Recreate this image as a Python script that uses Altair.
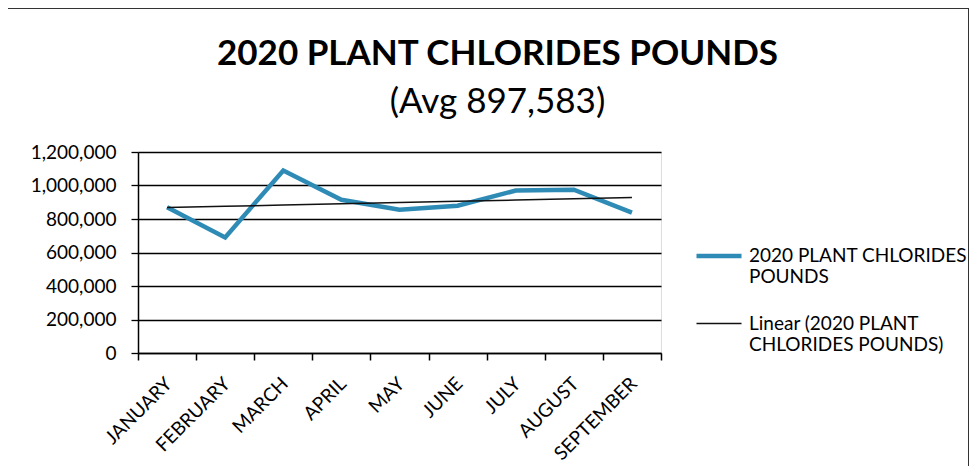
import altair as alt
import numpy as np
import pandas as pd

months = ["JANUARY", "FEBRUARY", "MARCH", "APRIL", "MAY", "JUNE", "JULY", "AUGUST", "SEPTEMBER"]
pounds = [870000, 690000, 1090000, 915000, 855000, 879000, 970000, 975000, 838000]
series_names = ["2020 PLANT CHLORIDES POUNDS", "Linear (2020 PLANT CHLORIDES POUNDS)"]
y_ticks = [0, 200000, 400000, 600000, 800000, 1000000, 1200000]
title_text = "2020 PLANT CHLORIDES POUNDS"
subtitle_text = "(Avg 897,583)"

idx = np.arange(len(months))
slope, intercept = np.polyfit(idx, pounds, 1)
trend = list(slope * idx + intercept)

df_main = pd.DataFrame({"month": months, "value": pounds, "series": series_names[0]})
df_trend = pd.DataFrame({"month": months, "value": trend, "series": series_names[1]})

FONT = "Lato"
W, H = 523, 201

color_scale = alt.Scale(domain=series_names, range=["#2E8BB5", "#111111"])
width_scale = alt.Scale(domain=series_names, range=[4.5, 1.5])

legend = alt.Legend(
    title=None, orient="none", legendX=556, legendY=79,
    symbolType="stroke", symbolSize=2025, labelOffset=5,
    labelFont=FONT, labelFontSize=19, labelColor="black", labelLimit=400,
    rowPadding=13,
    labelExpr="datum.label == '2020 PLANT CHLORIDES POUNDS' ? ['2020 PLANT CHLORIDES', 'POUNDS'] : ['Linear (2020 PLANT', 'CHLORIDES POUNDS)']",
)

x_enc = alt.X("month:N", sort=months, title=None,
              axis=alt.Axis(labelAngle=-45, labelAlign="right", labelBaseline="top",
                            tickBand="extent", tickSize=7, tickColor="black", domainColor="black",
                            labelFont=FONT, labelFontSize=19, labelColor="black", labelPadding=14,
                            labelOffset=-5, grid=False, domainWidth=1.5, tickWidth=1.5))
y_enc = alt.Y("value:Q", title=None,
              scale=alt.Scale(domain=[0, 1200000], nice=False),
              axis=alt.Axis(values=y_ticks, format=",d", tickSize=7, tickColor="black",
                            domainColor="black", gridColor="black", gridWidth=1.3,
                            labelFont=FONT, labelFontSize=19, labelColor="black", labelPadding=15,
                            domainWidth=1.5, tickWidth=1.3))

main = alt.Chart(df_main).mark_line().encode(
    x=x_enc, y=y_enc,
    color=alt.Color("series:N", scale=color_scale, legend=legend),
    strokeWidth=alt.StrokeWidth("series:N", scale=width_scale, legend=legend),
)
trendline = alt.Chart(df_trend).mark_line().encode(
    x=x_enc, y=y_enc,
    color=alt.Color("series:N", scale=color_scale, legend=legend),
    strokeWidth=alt.StrokeWidth("series:N", scale=width_scale, legend=legend),
)
frame = alt.Chart(alt.Data(values=[{}])).mark_rect(fill=None, stroke="#333333", strokeWidth=2).encode(
    x=alt.value(-131), x2=alt.value(831), y=alt.value(-144), y2=alt.value(330)
)

chart = alt.layer(main, trendline, frame).properties(
    width=W, height=H,
    title=alt.TitleParams(text=title_text, subtitle=subtitle_text, font=FONT, fontSize=35,
                          fontWeight="bold", color="black", subtitleFont=FONT, subtitleFontSize=35,
                          subtitleColor="black", anchor="middle", dx=98, offset=-113, subtitlePadding=13),
    autosize=alt.AutoSizeParams(type="none"),
    padding={"left": 130, "top": 144, "right": 308, "bottom": 113},
).configure_view(stroke=None).configure(background="white")

chart.save("out.html", embed_options={"renderer": "svg", "actions": False})
